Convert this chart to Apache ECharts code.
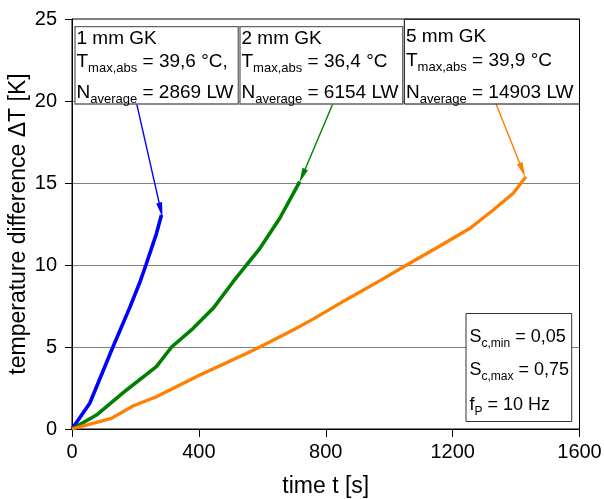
<!DOCTYPE html>
<html><head><meta charset="utf-8">
<script src="https://cdn.jsdelivr.net/npm/echarts@6/dist/echarts.min.js"></script>
<style>html,body{margin:0;padding:0;background:#fff}#c{width:604px;height:499px}</style>
</head><body><div id="c"></div>
<script>
// ---- data ----
const xMin = 0, xMax = 1600, xStep = 400;
const yMin = 0, yMax = 25, yStep = 5;

const t1mm  = [0, 56, 129, 182, 213, 233, 266, 282];
const dT1mm = [0, 1.57, 5.0, 7.4, 8.9, 10.0, 11.9, 13.05];

const t2mm  = [0, 77, 172, 266, 314, 382, 445, 508, 550, 592, 655, 718];
const dT2mm = [0, 0.85, 2.38, 3.8, 5.0, 6.14, 7.36, 8.98, 10.0, 11.0, 12.85, 15.08];

const t5mm  = [0, 124, 192, 266, 403, 550, 592, 697, 760, 866, 971, 1055, 1150, 1255, 1328, 1391, 1431];
const dT5mm = [0, 0.65, 1.4, 1.97, 3.29, 4.61, 5.0, 6.04, 6.7, 7.9, 9.05, 10.0, 11.05, 12.24, 13.35, 14.37, 15.38];

// arrows: [tStart, dTStart, tTip, dTTip]
const arrow1 = [204, 19.82, 280, 13.35];
const arrow2 = [823, 19.86, 726, 15.43];
const arrow5 = [1337, 19.82, 1420, 15.79];

const names = ['1 mm GK', '2 mm GK', '5 mm GK'];
const colors = ['#0000ff', '#008000', '#ff7f00'];

const FF = "'Liberation Sans', Arial, sans-serif";
const zip = (a, b) => a.map((v, i) => [v, b[i]]);

function mkSeries(name, t, d, color, arr, width) {
  return {
    name, type: 'line', data: zip(t, d), showSymbol: false, symbol: 'none',
    lineStyle: { color, width }, itemStyle: { color }, animation: false, z: 3,
    markLine: {
      silent: true, animation: false, symbol: ['none', 'triangle'], symbolSize: [6, 15],
      label: { show: false },
      lineStyle: { color, width: 1.4, type: 'solid' },
      data: [[{ coord: [arr[0], arr[1]] }, { coord: [arr[2], arr[3]] }]]
    }
  };
}

const sub13 = { fontSize: 13, fontFamily: FF, fill: '#000', verticalAlign: 'top', padding: [10, 0, 0, 0] };
const main19 = { fontSize: 19, fontFamily: FF, fill: '#000', verticalAlign: 'top' };
const sub12 = { fontSize: 12, fontFamily: FF, fill: '#000', verticalAlign: 'top', padding: [10, 0, 0, 0] };
const main18 = { fontSize: 18, fontFamily: FF, fill: '#000', verticalAlign: 'top' };

function txt(x, y, text, big) {
  return {
    type: 'text', x, y, z: 20,
    style: {
      text, fontSize: big ? 19 : 18, fontFamily: FF, fill: '#000', verticalAlign: 'top', align: 'left',
      rich: big ? { m: main19, s: sub13 } : { m: main18, s: sub12 }
    }
  };
}

const graphics = [
  { type: 'rect', z: 15, shape: { x: 75, y: 26.7, width: 163.3, height: 77.3 }, style: { fill: '#fff', stroke: '#666', lineWidth: 1.3 } },
  { type: 'rect', z: 15, shape: { x: 240, y: 26.7, width: 162.7, height: 77.3 }, style: { fill: '#fff', stroke: '#666', lineWidth: 1.3 } },
  { type: 'rect', z: 15, shape: { x: 404.3, y: 19.3, width: 175.2, height: 84.7 }, style: { fill: '#fff', stroke: '#000', lineWidth: 1 } },
  txt(76.5, 28.8, '{m|1 mm GK}', true),
  txt(76.5, 52.2, '{m|T}{s|max,abs}{m| = 39,6 °C,}', true),
  txt(76.5, 82.8, '{m|N}{s|average}{m| = 2869 LW}', true),
  txt(241.5, 28.8, '{m|2 mm GK}', true),
  txt(241.5, 52.2, '{m|T}{s|max,abs}{m| = 36,4 °C}', true),
  txt(241.5, 82.8, '{m|N}{s|average}{m| = 6154 LW}', true),
  txt(406, 27.2, '{m|5 mm GK}', true),
  txt(406, 51.3, '{m|T}{s|max,abs}{m| = 39,9 °C}', true),
  txt(406, 83, '{m|N}{s|average}{m| = 14903 LW}', true),
  { type: 'rect', z: 15, shape: { x: 466, y: 313.5, width: 105.7, height: 108 }, style: { fill: '#fff', stroke: '#333', lineWidth: 1 } },
  txt(469.5, 327.7, '{m|S}{s|c,min}{m| = 0,05}', false),
  txt(469.5, 361, '{m|S}{s|c,max}{m| = 0,75}', false),
  txt(469.5, 396, '{m|f}{s|P}{m| = 10 Hz}', false)
];

const chart = echarts.init(document.getElementById('c'), null, { renderer: 'canvas' });
chart.setOption({
  animation: false,
  backgroundColor: '#fff',
  grid: { left: 72, right: 24.5, top: 19, bottom: 70, show: true, borderColor: '#000', borderWidth: 1, containLabel: false, outerBoundsMode: 'none' },
  xAxis: {
    type: 'value', min: xMin, max: xMax, interval: xStep,
    name: 'time t [s]', nameLocation: 'middle', nameGap: 46, nameMoveOverlap: false,
    nameTextStyle: { fontSize: 23, fontFamily: FF, color: '#000' },
    axisLine: { show: true, onZero: false, lineStyle: { color: '#000', width: 1 } },
    axisTick: { show: true, inside: false, length: 8, lineStyle: { color: '#000' } },
    axisLabel: { fontSize: 20, fontFamily: FF, color: '#000', margin: 13, formatter: v => String(v) },
    splitLine: { show: false }
  },
  yAxis: {
    type: 'value', min: yMin, max: yMax, interval: yStep,
    name: 'temperature difference ΔT [K]', nameLocation: 'middle', nameGap: 42, nameMoveOverlap: false,
    nameTextStyle: { fontSize: 23, fontFamily: FF, color: '#000' },
    axisLine: { show: true, onZero: false, lineStyle: { color: '#000', width: 1 } },
    axisTick: { show: true, inside: false, length: 7, lineStyle: { color: '#000' } },
    axisLabel: { fontSize: 20, fontFamily: FF, color: '#000', margin: 15, formatter: v => String(v) },
    splitLine: { show: true, lineStyle: { color: '#808080', width: 1 } }
  },
  series: [
    mkSeries(names[0], t1mm, dT1mm, colors[0], arrow1, 3.6),
    mkSeries(names[1], t2mm, dT2mm, colors[1], arrow2, 3.6),
    mkSeries(names[2], t5mm, dT5mm, colors[2], arrow5, 3.3)
  ],
  graphic: graphics
});
</script></body></html>
